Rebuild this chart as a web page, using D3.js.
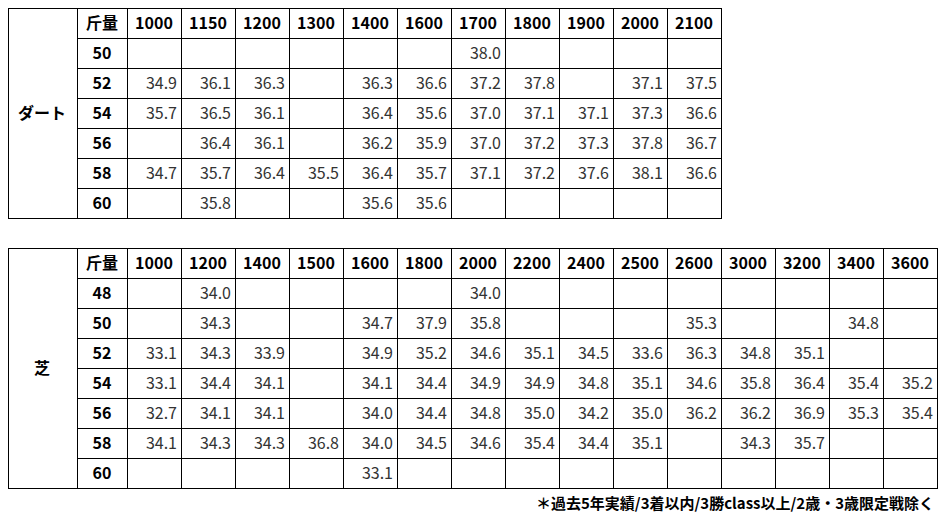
<!DOCTYPE html>
<html><head><meta charset="utf-8">
<script src="https://cdn.jsdelivr.net/npm/d3@7"></script>
<style>body{margin:0;background:#fff}text{font-family:"Noto Sans CJK JP","Noto Sans",sans-serif}</style>
</head><body><svg id="c" width="943" height="518"></svg>
<script>
const dirtDist=["1000","1150","1200","1300","1400","1600","1700","1800","1900","2000","2100"];
const dirtWeights=["50","52","54","56","58","60"];
const dirtValues=[
[null,null,null,null,null,null,38.0,null,null,null,null],
[34.9,36.1,36.3,null,36.3,36.6,37.2,37.8,null,37.1,37.5],
[35.7,36.5,36.1,null,36.4,35.6,37.0,37.1,37.1,37.3,36.6],
[null,36.4,36.1,null,36.2,35.9,37.0,37.2,37.3,37.8,36.7],
[34.7,35.7,36.4,35.5,36.4,35.7,37.1,37.2,37.6,38.1,36.6],
[null,35.8,null,null,35.6,35.6,null,null,null,null,null]];
const turfDist=["1000","1200","1400","1500","1600","1800","2000","2200","2400","2500","2600","3000","3200","3400","3600"];
const turfWeights=["48","50","52","54","56","58","60"];
const turfValues=[
[null,34.0,null,null,null,null,34.0,null,null,null,null,null,null,null,null],
[null,34.3,null,null,34.7,37.9,35.8,null,null,null,35.3,null,null,34.8,null],
[33.1,34.3,33.9,null,34.9,35.2,34.6,35.1,34.5,33.6,36.3,34.8,35.1,null,null],
[33.1,34.4,34.1,null,34.1,34.4,34.9,34.9,34.8,35.1,34.6,35.8,36.4,35.4,35.2],
[32.7,34.1,34.1,null,34.0,34.4,34.8,35.0,34.2,35.0,36.2,36.2,36.9,35.3,35.4],
[34.1,34.3,34.3,36.8,34.0,34.5,34.6,35.4,34.4,35.1,null,34.3,35.7,null,null],
[null,null,null,null,33.1,null,null,null,null,null,null,null,null,null,null]];
const headerLabel="斤量";
const note="＊過去5年実績/3着以内/3勝class以上/2歳・3歳限定戦除く";
const svg=d3.select("#c");
function table(y0,label,dists,weights,vals){
  const g=svg.append("g");
  const cols=[headerLabel,...dists];
  const x=d3.scaleBand().domain(cols).range([77,77+50+54*dists.length]);
  // custom widths: first col 50, rest 54
  const xs=c=>c===headerLabel?77:127+54*dists.indexOf(c);
  const ws=c=>c===headerLabel?50:54;
  const rows=["h",...weights];
  const y=d3.scaleBand().domain(rows).range([y0,y0+30*rows.length]);
  const right=127+54*dists.length;
  const st="#000";
  // outer label cell
  g.append("rect").attr("x",8.5).attr("y",y0+0.5).attr("width",right-8).attr("height",30*rows.length).attr("fill","none").attr("stroke",st);
  g.append("line").attr("x1",77.5).attr("x2",77.5).attr("y1",y0).attr("y2",y0+30*rows.length).attr("stroke",st);
  rows.forEach((r,i)=>{ if(i>0) g.append("line").attr("x1",77).attr("x2",right).attr("y1",y(r)+0.5).attr("y2",y(r)+0.5).attr("stroke",st);});
  cols.forEach((c,i)=>{ if(i>0) g.append("line").attr("x1",xs(c)+0.5).attr("x2",xs(c)+0.5).attr("y1",y0).attr("y2",y0+30*rows.length).attr("stroke",st);});
  g.append("text").attr("x",42).attr("y",y0+30*rows.length/2+6).attr("text-anchor","middle").attr("font-weight","bold").attr("font-size",16).text(label);
  cols.forEach(c=>g.append("text").attr("x",xs(c)+ws(c)/2).attr("y",y("h")+21).attr("text-anchor","middle").attr("font-weight","bold").attr("font-size",16).text(c));
  weights.forEach((w,i)=>{
    g.append("text").attr("x",102).attr("y",y(w)+21).attr("text-anchor","middle").attr("font-weight","bold").attr("font-size",16).text(w);
    vals[i].forEach((v,j)=>{ if(v!=null) g.append("text").attr("x",xs(dists[j])+50).attr("y",y(w)+21).attr("text-anchor","end").attr("font-size",16).attr("fill","#333").text(v.toFixed(1));});
  });
}
table(8,"ダート",dirtDist,dirtWeights,dirtValues);
table(248,"芝",turfDist,turfWeights,turfValues);
svg.append("text").attr("x",934).attr("y",509).attr("text-anchor","end").attr("font-weight","bold").attr("font-size",15).text(note);
</script></body></html>
